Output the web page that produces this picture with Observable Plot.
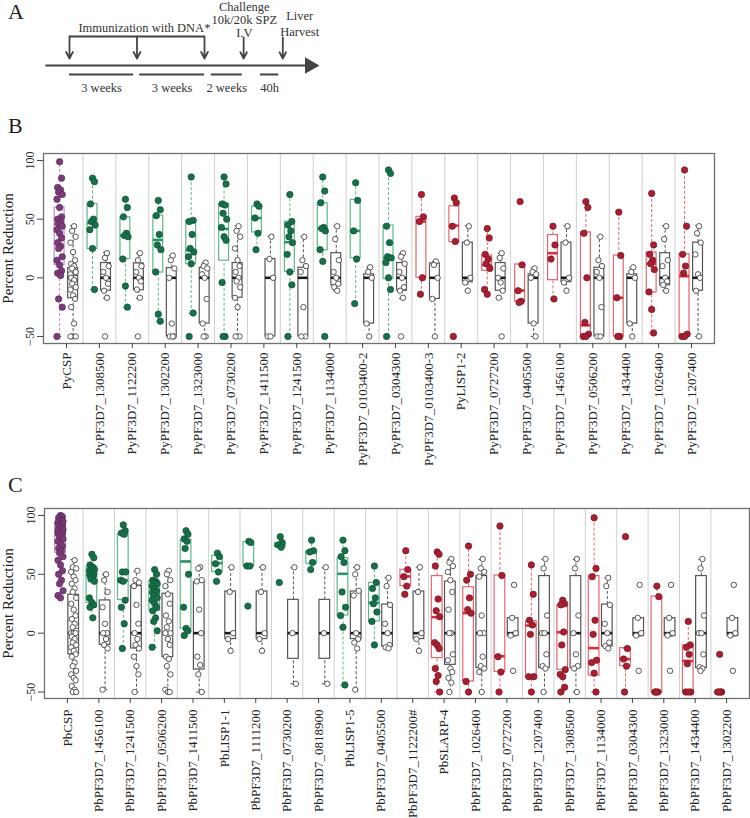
<!DOCTYPE html>
<html>
<head>
<meta charset="utf-8">
<script src="https://cdn.jsdelivr.net/npm/d3@7"></script>
<script src="https://cdn.jsdelivr.net/npm/@observablehq/plot@0.6"></script>
<style>
  body { margin: 0; background: white; }
  #root { position: relative; width: 750px; height: 818px; background: white; font-family: "Liberation Serif", "Times New Roman", serif; color: #222; overflow: hidden; }
  .panel { position: absolute; left: 0; }
  .letter { position: absolute; font-size: 22px; line-height: 24px; color: #222; }
</style>
</head>
<body>
<div id="root">
  <div class="panel" id="pa" style="top:0px"></div>
  <div class="panel" id="pb" style="top:140px"></div>
  <div class="panel" id="pc" style="top:495px"></div>
  <div class="letter" style="left:8px;top:0px">A</div>
  <div class="letter" style="left:8px;top:114px">B</div>
  <div class="letter" style="left:8px;top:473px">C</div>
</div>
<script>
// ---------------- Panel A: schedule (schematic positions) ----------------
const immunizationPos = [0, 1, 2];
const challengePos = 2.58;
const harvestPos = 3.16;
const intervalFrom = [0, 1.04, 2.1, 2.83];
const intervalTo = [0.95, 2, 2.56, 3.1];
const intervalLabels = ["3 weeks", "3 weeks", "2 weeks", "40h"];
const challengeLines = ["Challenge", "10k/20k SPZ", "I.V"];
const harvestLines = ["Liver", "Harvest"];
const immunizationLabel = "Immunization with DNA*";

// ---------------- Panel B: P. yoelii antigens ----------------
const pyNames = ["PyCSP","PyPF3D7_1308500","PyPF3D7_1122200","PyPF3D7_1302200","PyPF3D7_1323000","PyPF3D7_0730200","PyPF3D7_1411500","PyPF3D7_1241500","PyPF3D7_1134000","PyPF3D7_0103400-2","PyPF3D7_0304300","PyPF3D7_0103400-3","PyLISP1-2","PyPF3D7_0727200","PyPF3D7_0405500","PyPF3D7_1456100","PyPF3D7_0506200","PyPF3D7_1434400","PyPF3D7_1026400","PyPF3D7_1207400"];
const pyClass = ["csp","green","green","green","green","green","green","green","green","green","green","red","red","red","red","red","red","red","red","red"];
// box stats: [lower whisker, Q1, median, Q3, upper whisker]
const pyTestBox = [
  [-50, 11, 46, 60, 99], [-10, 24.5, 46.7, 63, 85.6], [-25, 16, 36, 51.6, 67.4], [-37, 4.5, 32.3, 53, 66.5],
  [-30.5, 11.6, 23.6, 48.8, 86], [-50, 14.6, 41.7, 63, 86], [23.7, 38.7, 51, 60.8, 62.5], [-50, 5, 30.4, 47.9, 71],
  [14, 23.4, 42, 63.6, 86.5], [-22, 16.7, 40, 66.4, 81], [-50, -1, 17, 44.5, 91.6], [-14, 0, 48, 52, 71],
  [30.4, 30.4, 44.5, 61, 68], [-14.6, 6, 11, 19, 42], [-20.5, -20.5, -10.8, 11.4, 11.4], [-18, -2, 21, 36.5, 44.5],
  [-50, -50, -40.5, 38.7, 65], [-50, -50, -17, 19, 55.6], [-47, -12.6, 12, 21.6, 72], [-50, -50, 1.4, 20, 92]
];
const pyCtrlBox = [
  [-50, -17.4, 0, 8.3, 44.5], [-17.4, -11, 0, 12.6, 21.7], [-17.7, -10.6, 0, 12.3, 21], [-50, -50, 0, 8.3, 18.8],
  [-50, -39, 0, 8.6, 12.9], [-50, -17, 0, 12.6, 44.5], [-50, -50, 0, 16, 35.4], [-50, -50, 0, 8.6, 35.4],
  [-11, -6.4, 0, 21, 44.5], [-50, -39, 0, 3, 8.6], [-17.7, -11, 0, 12.6, 21], [-50, -18, 0, 12.3, 14],
  [-11, -3.7, 0, 30, 44.5], [-17.7, -11, 0, 12.6, 21], [-50, -39, 0, 3, 8.6], [-11, -3.7, 0, 30, 44.5],
  [-50, -50, 0, 8.6, 35.4], [-50, -39, 0, 3, 8.6], [-11, -6.4, 0, 21, 44.5], [-50, -11, 0, 30, 44.5]
];
const pyTestDots = [
  [99, 85, 77, 75, 73, 71, 67, 60, 52, 50, 48, 46, 44, 41, 38, 34, 30, 27, 25, 18, 15, 11, 6, 4, 2, -18, -25, -50],
  [85, 82, 63, 50, 48, 45, 41, 25, -10],
  [67, 60, 52, 38, 36, 35, 16, -7, -25],
  [66, 58, 53, 37, 28, 24, 5, -31, -37],
  [86, 49, 48, 37, 25, 22, 18, 12, -30, -50],
  [86, 80, 63, 62, 55, 50, 43, 35, 32, -4, -50, -50],
  [63, 61, 51, 38, 24],
  [71, 48, 45, 40, 35, 30, 20, 5, -6, -50],
  [86, 74, 64, 43, 42, 40, 24, 14, -50],
  [81, 66, 40, 16, -22],
  [92, 89, 44, 30, 18, 17, 13, 0, -10, -50],
  [71, 52, 48, 0, -14],
  [68, 64, 44, 31, -50],
  [42, 34, 20, 16, 12, 8, -10, -14],
  [65, 11, -11, -20, -21],
  [44, 28, 16, -18],
  [65, 60, 38, 0, -38, -48, -50, -50],
  [56, 19, -17, -50, -50],
  [72, 28, 20, 15, 12, 7, -12, -27, -47],
  [92, 44, 20, 10, 4, -48, -50, -50]
];
const pyCtrlDots = [
  [44, 40, 35, 30, 22, 15, 12, 10, 8, 5, 3, 0, 0, 0, -2, -5, -8, -10, -15, -18, -25, -39, -50, -50, -50],
  [21, 17, 10, 5, 0, -5, -11, -17, -50],
  [21, 15, 10, 5, 0, -3, -10, -17, -50],
  [19, 15, 8, 0, -39, -50, -50, -50],
  [13, 10, 8, 3, 0, -18, -39, -50, -50],
  [44, 40, 35, 25, 15, 10, 5, 0, -3, -8, -17, -25, -50, -50],
  [35, 16, 0, -50, -50],
  [35, 15, 10, 5, -25, -50, -50],
  [44, 33, 15, 5, 0, -5, -8, -11],
  [9, 5, 0, -39, -50],
  [21, 18, 12, 5, 0, -8, -11, -17, -50],
  [14, 11, 0, -18, -50],
  [44, 30, 0, -4, -11],
  [21, 17, 8, 0, -4, -11, -17, -50],
  [8, 5, 3, 0, -39, -50],
  [44, 30, 0, -4, -11],
  [35, 15, 10, 5, 0, -25, -50, -50],
  [9, 5, 0, -39, -50],
  [44, 33, 15, 10, 0, -3, -6, -11],
  [44, 38, 30, 20, 3, 0, -11, -50]
];

// ---------------- Panel C: P. berghei antigens ----------------
const pbNames = ["PbCSP","PbPF3D7_1456100","PbPF3D7_1241500","PbPF3D7_0506200","PbPF3D7_1411500","PbLISP1-1","PbPF3D7_1111200","PbPF3D7_0730200","PbPF3D7_0818900","PbLISP1-5","PbPF3D7_0405500","PbPF3D7_1122200#","PbSLARP-4","PbPF3D7_1026400","PbPF3D7_0727200","PbPF3D7_1207400","PbPF3D7_1308500","PbPF3D7_1134000","PbPF3D7_0304300","PbPF3D7_1323000","PbPF3D7_1434400","PbPF3D7_1302200"];
const pbClass = ["csp","green","green","green","green","green","green","green","green","green","green","red","red","red","red","red","red","red","red","red","red","red"];
const pbTestBox = [
  [30, 68.3, 84, 93.7, 100], [13, 25.8, 49.8, 56.6, 67.4], [-13, 28.3, 44.8, 84.4, 92], [-12, 18.7, 34.3, 44.2, 54],
  [-2.5, 3.7, 60.9, 79.3, 87.2], [44.2, 52, 59.5, 65.7, 68.5], [57, 57, 57.5, 77.3, 78], [73, 73.1, 74.4, 76.5, 82],
  [54, 59, 69, 69.4, 78.7], [-44, 15, 50.4, 63.7, 79.3], [-9.9, 10, 25.8, 42.7, 57.2], [32.8, 40, 48.2, 53.8, 70.4],
  [-50, -21.2, 13.6, 48.5, 69], [-50, -41, 17, 39, 74], [-50, -33, -19.6, 49, 91], [-50, -37.4, 6.5, 10.2, 58.3],
  [-50, -31.1, 0.8, 23.6, 28.3], [-50, -36, -12.7, 48.5, 98.5], [-50, -28, -22, -12.7, -12.7], [-50, -50, -50, 31.1, 40],
  [-50, -50, -23.6, -10.4, 9.9], [-50, -50, -50, -50, -50]
];
const pbCtrlBox = [
  [-50, -18, 0, 32.6, 62.6], [-48, -9.9, 0, 27.8, 49.6], [-50, -13, 0, 40, 52.7], [-50, -20.4, 0, 33.5, 52.7],
  [-50, -30.9, 0, 43.3, 55.5], [-14.7, -5, 0, 35.4, 56], [-14.7, -5, 0, 35.4, 56], [-43, -21.8, 0, 28.3, 55.5],
  [-43, -21.8, 0, 28.3, 55.5], [-48, -5, 0, 35.4, 56], [-13, -11.3, 0, 24.3, 47], [-14.7, -5, 0, 35.4, 56],
  [-50, -26.9, 0, 43.8, 62.6], [-50, -29.7, 0, 48.5, 62.6], [-2.5, -2.5, 0, 12.7, 12.7], [-50, -29.7, 0, 48.5, 62.6],
  [-50, -29.7, 0, 48.5, 62.6], [-13, -11.3, 0, 24.3, 47], [-2.5, -2.5, 0, 12.7, 12.7], [-2.5, -2.5, 0, 12.7, 12.7],
  [-32, -29.7, 0, 48.5, 62.6], [-2.5, -2.5, 0, 12.7, 12.7]
];
const pbTestDots = [
  [100, 99, 98, 97, 96, 95, 94, 93, 92, 91, 90, 89, 88, 87, 86, 85, 84, 83, 82, 80, 78, 76, 74, 72, 70, 68, 65, 62, 58, 53, 50, 45, 42, 36, 32, 30],
  [67, 64, 58, 56, 55, 54, 53, 52, 50, 49, 48, 46, 44, 30, 26, 24, 22, 13],
  [92, 87, 85, 84, 52, 52, 45, 44, 28, 22, 8, -13],
  [54, 50, 45, 44, 43, 42, 40, 38, 36, 35, 34, 32, 30, 28, 25, 22, 19, 13, 10, 2, -12],
  [87, 84, 80, 78, 72, 50, 22, 4, 2, -2],
  [68, 65, 59, 52, 44],
  [78, 77, 57, 57, 23],
  [82, 77, 75, 73, 43],
  [79, 70, 69, 60, 54],
  [79, 70, 65, 60, 35, 22, 15, 5, -44],
  [57, 43, 38, 30, 25, 18, 10, -10],
  [70, 54, 48, 40, 33],
  [69, 67, 57, 29, 19, 14, -8, -10, -13, -30, -36, -41, -50],
  [74, 50, 45, 30, 20, 17, -41, -50],
  [91, 49, -20, -33, -50],
  [58, 33, 11, 7, -1, -37, -37, -50],
  [28, 25, 24, 1, -10, -31, -35, -37, -46, -50],
  [98, 55, 48, 11, -1, -23, -25, -34, -50],
  [82, -13, -22, -28, -50],
  [40, 31, -50, -50, -50],
  [10, -10, -12, -18, -26, -50, -50, -50],
  [-18, -50, -50, -50, -50]
];
const pbCtrlDots = [
  [62, 56, 55, 52, 48, 45, 42, 38, 35, 30, 25, 20, 15, 12, 8, 5, 2, 0, 0, 0, -3, -5, -8, -10, -12, -15, -18, -20, -25, -28, -32, -35, -38, -40, -45, -48, -50, -50],
  [50, 45, 35, 22, 8, 0, 0, -5, -10, -13, -48],
  [53, 45, 43, 40, 24, 8, 0, -5, -10, -13, -20, -28, -35, -50],
  [53, 50, 45, 40, 33, 25, 15, 10, 5, 0, 0, -5, -10, -20, -22, -28, -35, -48, -50, -50],
  [56, 55, 45, 44, 20, 0, -20, -27, -35, -50],
  [56, 35, 0, -5, -15],
  [56, 35, 0, -5, -15],
  [56, 0, -43],
  [56, 0, -43],
  [56, 50, 36, 32, 0, -5, -8, -13, -48],
  [47, 40, 24, 8, 0, -10, -12, -13],
  [56, 35, 0, -5, -15],
  [63, 60, 57, 52, 45, 35, 20, 0, 0, -18, -23, -30, -33, -38, -42, -50],
  [63, 55, 52, 48, 15, 0, 0, -20, -28, -30, -33, -50],
  [41, 13, 0, -2, -32],
  [63, 55, 15, 0, 0, -18, -28, -30, -50],
  [63, 55, 15, 0, -18, -28, -30, -50],
  [47, 40, 24, 8, 0, -8, -11, -13],
  [41, 13, 0, -2, -32],
  [41, 13, 0, -2, -32],
  [63, 55, 15, 0, 0, -18, -29, -30, -32],
  [41, 13, 0, -2, -32]
];
const yTicks = [-50, 0, 50, 100];
const yLabel = "Percent Reduction";

// ---------------- styles ----------------
const FONT = "'Liberation Serif', 'Times New Roman', serif";
const boxStroke = {csp: "#c488c1", green: "#5cb98a", red: "#e7646f", ctrl: "#555555"};
const medStroke = {csp: "#a052a0", green: "#2c9462", red: "#d82e3e", ctrl: "#1a1a1a"};
const dotFill = {csp: "#7c3b79", green: "#17704a", red: "#a81f31"};
const dotStroke = {csp: "#5a2858", green: "#0e5135", red: "#7a1421"};
const jit = [0, 0.06, -0.06, 0.03, -0.03, 0.08, -0.08];

// ---------------- Panel A ----------------
{
  const intervals = intervalLabels.map((t, i) => ({from: intervalFrom[i], to: intervalTo[i], mid: (intervalFrom[i] + intervalTo[i]) / 2, label: t}));
  const arrows = [
    ...immunizationPos.map(p => ({x: p, top: 1.0})),
    {x: challengePos, top: 0.97},
    {x: harvestPos, top: 0.97}
  ];
  const texts = [
    {x: 1.11, y: 1.276, t: immunizationLabel},
    ...challengeLines.map((t, i) => ({x: challengePos + 0.01, y: 2.03 - i * 0.455, t})),
    ...harvestLines.map((t, i) => ({x: harvestPos + 0.25, y: 1.69 - i * 0.52, t}))
  ];
  const chart = Plot.plot({
    width: 340, height: 100,
    marginTop: 0, marginBottom: 0, marginLeft: 0, marginRight: 0,
    x: {domain: [-1.0222, 4.0148], axis: null},
    y: {domain: [-1.2069, 2.2414], axis: null},
    style: {fontFamily: FONT, fontSize: "12.5px", color: "#333", background: "transparent"},
    marks: [
      Plot.ruleY([0], {x1: -0.35, x2: 3.56, stroke: "#444", strokeWidth: 2}),
      Plot.dot([{x: 3.56, y: 0}], {x: "x", y: "y", symbol: "triangle", rotate: 90, r: 5.2, fill: "#444", stroke: "#444"}),
      Plot.ruleY([1], {x1: immunizationPos[0], x2: immunizationPos[immunizationPos.length - 1], stroke: "#444", strokeWidth: 1.8}),
      Plot.arrow(arrows, {x1: "x", x2: "x", y1: "top", y2: 0.24, stroke: "#444", strokeWidth: 1.8, headLength: 9, headAngle: 55}),
      Plot.ruleY(intervals, {y: -0.31, x1: "from", x2: "to", stroke: "#444", strokeWidth: 2}),
      Plot.text(intervals, {x: "mid", y: -0.776, text: "label", fill: "#333", fontFamily: FONT}),
      Plot.text(texts, {x: "x", y: "y", text: "t", fill: "#333", fontFamily: FONT})
    ]
  });
  document.getElementById("pa").appendChild(chart);
}

// ---------------- Box panels ----------------
function boxPanel(names, cls, testBox, ctrlBox, testDots, ctrlDots, o) {
  const toRow = (b, i, off, c) => ({x: i + off, lo: b[0], q1: b[1], med: b[2], q3: b[3], hi: b[4], c});
  const boxes = [
    ...testBox.map((b, i) => toRow(b, i, o.to, cls[i])),
    ...ctrlBox.map((b, i) => toRow(b, i, o.co, "ctrl"))
  ];
  const tDots = testDots.flatMap((vals, i) => vals.map((v, k) => ({x: i + o.to + jit[k % 7], y: v, c: cls[i]})));
  const cDots = ctrlDots.flatMap((vals, i) => vals.map((v, k) => ({x: i + o.co + jit[(k + 3) % 7], y: v})));
  const w = o.hw;
  const seps = d3.range(names.length - 1).map(i => i + 0.5);
  const yMid = (o.ydom[0] + o.ydom[1]) / 2;
  return Plot.plot({
    width: 750, height: o.height,
    marginTop: o.mt, marginBottom: o.mb, marginLeft: o.ml, marginRight: o.mr,
    x: {domain: o.xdom, label: null},
    y: {domain: o.ydom, label: null},
    style: {fontFamily: FONT, color: "#222", background: "transparent"},
    marks: [
      Plot.ruleX(seps, {stroke: "#cfcfcf", strokeWidth: 1}),
      Plot.ruleX(boxes, {x: "x", y1: "q3", y2: "hi", stroke: d => boxStroke[d.c], strokeDasharray: "3,2", strokeWidth: 1}),
      Plot.ruleX(boxes, {x: "x", y1: "lo", y2: "q1", stroke: d => boxStroke[d.c], strokeDasharray: "3,2", strokeWidth: 1}),
      Plot.ruleY(boxes, {y: "hi", x1: d => d.x - w / 2, x2: d => d.x + w / 2, stroke: d => boxStroke[d.c], strokeWidth: 1}),
      Plot.ruleY(boxes, {y: "lo", x1: d => d.x - w / 2, x2: d => d.x + w / 2, stroke: d => boxStroke[d.c], strokeWidth: 1}),
      Plot.rect(boxes, {x1: d => d.x - w, x2: d => d.x + w, y1: "q1", y2: "q3", fill: "none", stroke: d => boxStroke[d.c], strokeWidth: 1.2}),
      Plot.ruleY(boxes, {y: "med", x1: d => d.x - w, x2: d => d.x + w, stroke: d => medStroke[d.c], strokeWidth: 2.6}),
      Plot.dot(cDots, {x: "x", y: "y", r: 2.7, fill: "white", stroke: "#555", strokeWidth: 1}),
      Plot.dot(tDots, {x: "x", y: "y", r: 3.2, fill: d => dotFill[d.c], stroke: d => dotStroke[d.c], strokeWidth: 0.7}),
      Plot.frame({stroke: "#707070", strokeWidth: 1.3}),
      Plot.axisX({ticks: d3.range(names.length), tickFormat: i => names[i], tickRotate: -90, tickSize: 5, tickPadding: o.xpad, fontSize: 13, label: null, stroke: "#444"}),
      Plot.axisY({ticks: yTicks, tickRotate: -90, tickSize: 6, tickPadding: 4, fontSize: 12, label: null, stroke: "#444"}),
      Plot.text([yLabel], {text: d => d, x: () => o.xdom[0], y: () => yMid, textAnchor: "middle", lineAnchor: "middle", dx: o.labdx, rotate: -90, fontSize: 15, fill: "#222", fontFamily: FONT})
    ]
  });
}

document.getElementById("pb").appendChild(boxPanel(pyNames, pyClass, pyTestBox, pyCtrlBox, pyTestDots, pyCtrlDots, {
  height: 330, mt: 13, mb: 127, ml: 43, mr: 36,
  xdom: [-0.7, 19.7], ydom: [-56, 106], to: -0.21, co: 0.2, hw: 0.15, xpad: 4, labdx: -35
}));
document.getElementById("pc").appendChild(boxPanel(pbNames, pbClass, pbTestBox, pbCtrlBox, pbTestDots, pbCtrlDots, {
  height: 323, mt: 13, mb: 120, ml: 44, mr: 1,
  xdom: [-0.73, 21.73], ydom: [-55.5, 105.9], to: -0.22, co: 0.2, hw: 0.17, xpad: 6, labdx: -36
}));
</script>
</body>
</html>
